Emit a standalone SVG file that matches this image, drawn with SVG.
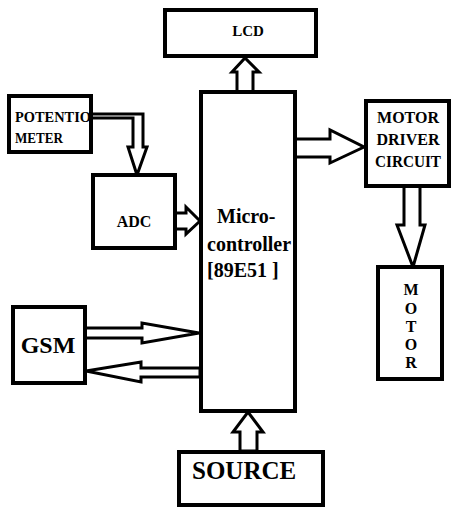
<svg xmlns="http://www.w3.org/2000/svg" width="453" height="508" viewBox="0 0 453 508">
<style>
.box{fill:#fff;stroke:#000;stroke-width:4}
.arr{fill:#fff;stroke:#000;stroke-width:3;stroke-linejoin:miter}
.t{font-family:'Liberation Serif','Tinos','Times New Roman','DejaVu Serif',serif;font-weight:bold;fill:#000}
</style>
<rect width="453" height="508" fill="#fff"/>
<g id="connectors">
<polygon class="arr" points="237,92 237,72 232,72 245,58 259,72 253,72 253,92"/>
<polygon class="arr" points="91,114 143,114 143,147 147,147 137,175 128,147 133,147 133,118 91,118"/>
<polygon class="arr" points="175,213 186,213 186,207 200,221 186,234 186,229 175,229"/>
<polygon class="arr" points="295,139 330,139 330,130 364,147 330,163 330,157 295,157"/>
<polygon class="arr" points="404,186 404,225 397,225 413,267 425,225 420,225 420,186"/>
<polygon class="arr" points="85,328 142,328 142,323 199,333 142,343 142,338 85,338"/>
<polygon class="arr" points="200,368 141,368 141,362 86,371 141,382 141,377 200,377"/>
<polygon class="arr" points="240,451 240,432 233,432 248,412 263,432 257,432 257,451"/>
</g>
<g id="lcd"><rect class="box" x="165" y="10" width="151" height="46"/><text class="t" x="248" y="36" font-size="15" text-anchor="middle">LCD</text></g>
<g id="potentiometer"><rect class="box" x="9" y="96" width="82" height="56"/><text class="t" x="15" y="122" font-size="14" textLength="76" lengthAdjust="spacingAndGlyphs">POTENTIO</text><text class="t" x="15" y="143" font-size="14" textLength="48" lengthAdjust="spacingAndGlyphs">METER</text></g>
<g id="adc"><rect class="box" x="93" y="175" width="82" height="73"/><text class="t" x="134" y="227" font-size="16" text-anchor="middle">ADC</text></g>
<g id="microcontroller"><rect class="box" x="201" y="92" width="94" height="319"/><text class="t" x="217" y="223" font-size="20">Micro-</text><text class="t" x="207" y="251" font-size="20">controller</text><text class="t" x="207" y="277" font-size="20">[89E51 ]</text></g>
<g id="motor-driver"><rect class="box" x="366" y="101" width="83" height="85"/><text class="t" x="408" y="123" font-size="16" text-anchor="middle">MOTOR</text><text class="t" x="408" y="145" font-size="16" text-anchor="middle">DRIVER</text><text class="t" x="408" y="167" font-size="16" text-anchor="middle" textLength="66" lengthAdjust="spacingAndGlyphs">CIRCUIT</text></g>
<g id="motor"><rect class="box" x="378" y="267" width="64" height="112"/><text class="t" x="411" y="295" font-size="16" text-anchor="middle">M</text><text class="t" x="411" y="314" font-size="16" text-anchor="middle">O</text><text class="t" x="411" y="332" font-size="16" text-anchor="middle">T</text><text class="t" x="411" y="350" font-size="16" text-anchor="middle">O</text><text class="t" x="411" y="368" font-size="16" text-anchor="middle">R</text></g>
<g id="gsm"><rect class="box" x="13" y="307" width="72" height="76"/><text class="t" x="48" y="353" font-size="24" text-anchor="middle">GSM</text></g>
<g id="source"><rect class="box" x="179" y="452" width="144" height="53"/><text class="t" x="192" y="479" font-size="25">SOURCE</text></g>
</svg>
